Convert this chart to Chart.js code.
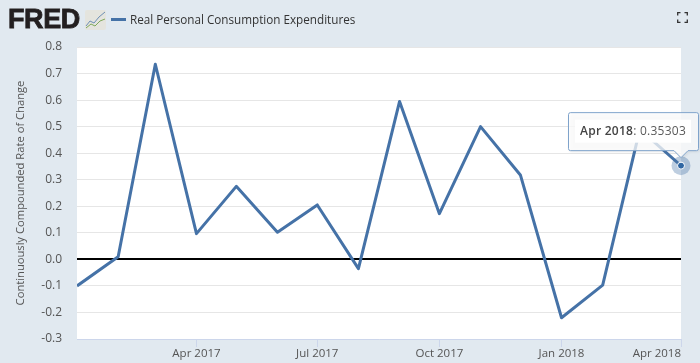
<!DOCTYPE html>
<html lang="en">
<head>
  <meta charset="UTF-8" />
  <title>FRED - Real Personal Consumption Expenditures</title>
  <script src="https://cdn.jsdelivr.net/npm/chart.js"></script>
  <style>
    html, body { margin: 0; padding: 0; background: #e1e9f0; }
    body { position: relative; width: 700px; height: 363px; overflow: hidden; }
    #chart { position: absolute; left: 0; top: 0; }
    .logo {
      position: absolute; left: 8px; top: 4px; line-height: 32px;
      font: bold 27px "Liberation Sans", sans-serif; letter-spacing: -0.4px;
      color: #231f20; -webkit-text-stroke: 0.8px #231f20;
    }
    .logo-icon { position: absolute; left: 85px; top: 10px; }
    .legend-line { position: absolute; left: 111px; top: 18px; width: 15px; height: 2.5px; background: #4572a7; }
    .legend-text {
      position: absolute; left: 130px; top: 11px; line-height: 17px;
      font: 500 11.7px "Open Sans", sans-serif; color: #333;
    }
    .expand { position: absolute; left: 677px; top: 12px; }
  </style>
</head>
<body>
  <canvas id="chart" width="700" height="363"></canvas>
  <div class="logo">FRED</div>
  <svg class="logo-icon" width="21" height="20" viewBox="0 0 21 20">
    <rect x="0" y="0" width="21" height="20" rx="2" fill="#e4e4de"/>
    <polyline points="1,16 5,11 9,13 14,7 20,2" fill="none" stroke="#6d8fb5" stroke-width="1"/>
    <polyline points="1,18 6,14 10,16 15,11 20,9" fill="none" stroke="#7fa85a" stroke-width="1"/>
  </svg>
  <div class="legend-line"></div>
  <div class="legend-text">Real Personal Consumption Expenditures</div>
  <svg class="expand" width="11" height="11" viewBox="0 0 11 11" fill="none" stroke="#333" stroke-width="1.3">
    <path d="M0.7 3.5V0.7H3.5M7.5 0.7H10.3V3.5M10.3 7.5V10.3H7.5M3.5 10.3H0.7V7.5"/>
  </svg>

  <script>
    const months = ['2017-01', '2017-02', '2017-03', '2017-04', '2017-05', '2017-06', '2017-07', '2017-08',
                    '2017-09', '2017-10', '2017-11', '2017-12', '2018-01', '2018-02', '2018-03', '2018-04'];
    const rates = [-0.1, 0.01, 0.735, 0.097, 0.275, 0.102, 0.205, -0.035,
                   0.595, 0.172, 0.5, 0.318, -0.22, -0.097, 0.49, 0.35303];
    const tickMonths = ['2017-04', '2017-07', '2017-10', '2018-01', '2018-04'];
    const tickLabels = ['Apr 2017', 'Jul 2017', 'Oct 2017', 'Jan 2018', 'Apr 2018'];
    const tooltipDate = 'Apr 2018';
    const tooltipValue = '0.35303';

    // the axis is a real time axis, so months are placed by their day number
    function dia(mes) {
      const p = mes.split('-');
      return Date.UTC(+p[0], +p[1] - 1, 1) / 86400000;
    }

    const fonte = '"Open Sans", sans-serif';
    const pontos = months.map((m, i) => ({ x: dia(m), y: rates[i] }));

    const fundoPlot = {
      id: 'fundoPlot',
      beforeDraw(chart) {
        const a = chart.chartArea;
        chart.ctx.fillStyle = '#fff';
        chart.ctx.fillRect(a.left, a.top, a.right - a.left, a.bottom - a.top);
        // last x label sits left of its tick, otherwise it would leave the page
        const itens = chart.scales.x.getLabelItems(a);
        itens[itens.length - 1].options.textAlign = 'right';
      }
    };

    const destaque = {
      id: 'destaque',
      afterDatasetsDraw(chart) {
        const c = chart.ctx;
        const x = chart.scales.x.getPixelForValue(pontos[pontos.length - 1].x);
        const y = chart.scales.y.getPixelForValue(pontos[pontos.length - 1].y);
        c.save();
        c.fillStyle = 'rgba(69,114,167,0.35)';
        c.beginPath(); c.arc(x, y, 9.5, 0, Math.PI * 2); c.fill();
        c.fillStyle = '#2f66a3'; c.strokeStyle = '#fff'; c.lineWidth = 1;
        c.beginPath(); c.arc(x, y, 3.5, 0, Math.PI * 2); c.fill(); c.stroke();
        c.restore();
      },
      afterDraw(chart) {
        const c = chart.ctx;
        const x = chart.scales.x.getPixelForValue(pontos[pontos.length - 1].x);
        const y = chart.scales.y.getPixelForValue(pontos[pontos.length - 1].y);
        // tooltip box, sits just above the highlighted point
        const l = 568.5, r = 698.5, b = y - 15, t = b - 38;
        c.save();
        c.beginPath();
        c.moveTo(l + 2, t); c.lineTo(r - 2, t); c.quadraticCurveTo(r, t, r, t + 2);
        c.lineTo(r, b - 2); c.quadraticCurveTo(r, b, r - 2, b);
        c.lineTo(x + 7, b); c.lineTo(x, b + 7); c.lineTo(x - 7, b);
        c.lineTo(l + 2, b); c.quadraticCurveTo(l, b, l, b - 2);
        c.lineTo(l, t + 2); c.quadraticCurveTo(l, t, l + 2, t);
        c.closePath();
        c.fillStyle = 'rgba(255,255,255,0.75)';
        c.shadowColor = 'rgba(0,0,0,0.12)'; c.shadowBlur = 3; c.shadowOffsetX = 1; c.shadowOffsetY = 1;
        c.fill();
        c.shadowColor = 'transparent';
        c.strokeStyle = '#7fa3cb'; c.lineWidth = 1; c.stroke();
        c.fillStyle = '#fff';
        c.fillRect(575, t + 7, 116, 23);
        c.textBaseline = 'middle'; c.textAlign = 'left';
        c.letterSpacing = '0.25px';
        c.font = '600 12px ' + fonte; c.fillStyle = '#444';
        c.fillText(tooltipDate, 580, t + 19);
        const w = c.measureText(tooltipDate).width;
        c.font = '400 12px ' + fonte; c.fillStyle = '#5a5a5a';
        c.fillText(': ' + tooltipValue, 580 + w, t + 19);
        c.restore();
      }
    };

    new Chart(document.getElementById('chart').getContext('2d'), {
      type: 'line',
      data: {
        datasets: [{
          data: pontos,
          borderColor: '#4572a7',
          borderWidth: 3,
          pointRadius: 0,
          tension: 0,
          borderJoinStyle: 'round'
        }]
      },
      options: {
        responsive: false,
        animation: false,
        events: [],
        layout: { padding: { left: 14, right: 19, top: 47, bottom: 0 } },
        plugins: { legend: { display: false }, tooltip: { enabled: false } },
        scales: {
          x: {
            type: 'linear',
            min: dia(months[0]),
            max: dia(months[months.length - 1]),
            afterBuildTicks(s) { s.ticks = tickMonths.map(m => ({ value: dia(m) })); },
            afterFit(s) { s.height = 24; s.paddingLeft = 0; s.paddingRight = 0; },
            grid: { drawOnChartArea: false, tickLength: 8, tickColor: '#ccd6eb' },
            border: { color: '#ccd6eb' },
            ticks: {
              autoSkip: false,
              maxRotation: 0,
              padding: 0,
              color: '#555',
              font: { family: fonte, size: 11.5 },
              callback(v) { return tickLabels[tickMonths.findIndex(m => dia(m) === v)]; }
            }
          },
          y: {
            min: -0.3,
            max: 0.8,
            afterFit(s) { s.width = 63; },
            grid: {
              drawTicks: false,
              color: ctx => Math.abs(ctx.tick.value) < 1e-6 ? '#000' : '#e6e6e6',
              lineWidth: ctx => Math.abs(ctx.tick.value) < 1e-6 ? 2 : 1
            },
            border: { display: false },
            ticks: {
              stepSize: 0.1,
              padding: 15,
              color: '#555',
              font: { family: fonte, size: 12 },
              callback: v => v.toFixed(1)
            },
            title: {
              display: true,
              text: 'Continuously Compounded Rate of Change',
              color: '#555',
              padding: 0,
              font: { family: fonte, size: 11.2 }
            }
          }
        }
      },
      plugins: [fundoPlot, destaque]
    });
  </script>
</body>
</html>
